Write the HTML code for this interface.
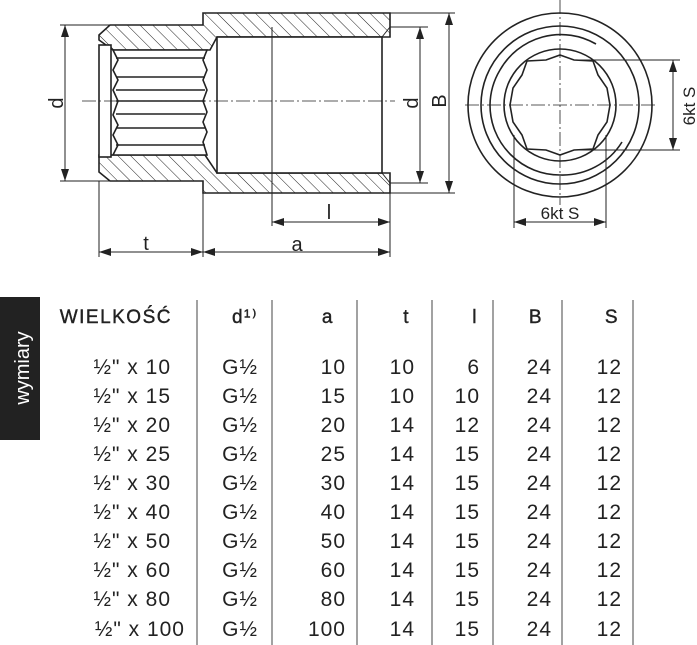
<!DOCTYPE html>
<html><head><style>
html,body{margin:0;padding:0;background:#fff}
svg{display:block}
text{font-family:"Liberation Sans","DejaVu Sans",sans-serif;fill:#222}
</style></head><body>
<svg width="697" height="645" viewBox="0 0 697 645" xmlns="http://www.w3.org/2000/svg">
<defs>
<pattern id="h" patternUnits="userSpaceOnUse" width="9" height="9" patternTransform="rotate(-45)">
<line x1="0" y1="0" x2="0" y2="9" stroke="#222" stroke-width="1"/>
</pattern>
<marker id="ar" markerWidth="12" markerHeight="8" refX="12" refY="4" orient="auto-start-reverse" markerUnits="userSpaceOnUse">
<path d="M0,0 L12,4 L0,8 z" fill="#222"/></marker>
</defs>
<g stroke="#222" fill="none">
<path d="M110,25 L203,25 L203,13 L390,13 L390,37 L217,37 L210,50 L113,50 L99,40 L99,35 Z" fill="url(#h)" stroke-width="1.6"/>
<path d="M99,155 L205,155 L217,173 L390,173 L390,193 L203,193 L203,181 L110,181 L99,172 Z" fill="url(#h)" stroke-width="1.6"/>
<rect x="217" y="37" width="165" height="136" fill="#fff" stroke-width="1.6"/>
<line x1="382" y1="37" x2="390" y2="27" stroke-width="1"/>
<line x1="382" y1="173" x2="390" y2="183" stroke-width="1"/>
<line x1="272" y1="27" x2="272" y2="226" stroke-width="1"/>
<rect x="99" y="45" width="12" height="112" fill="#fff" stroke-width="1.6"/>
<path d="M113,50 L207,50 L203,60 L207,70 L203,80 L207,90 L203,101 L207,112 L203,122 L207,132 L203,142 L207,155 L113,155 L118,145 L113,135 L118,125 L113,115 L118,101 L113,90 L118,80 L113,70 L118,60 Z" fill="#fff" stroke-width="1.6"/>
<g stroke-width="1.4"><line x1="116" y1="58" x2="205" y2="58"/><line x1="116" y1="77" x2="205" y2="77"/><line x1="116" y1="90" x2="205" y2="90"/><line x1="116" y1="101" x2="205" y2="101"/><line x1="116" y1="114" x2="205" y2="114"/><line x1="116" y1="128" x2="205" y2="128"/><line x1="116" y1="145" x2="205" y2="145"/></g>
<line x1="82" y1="101" x2="395" y2="101" stroke-width="0.8" stroke-dasharray="14,3,2,3"/>
<g stroke-width="1">
<line x1="60" y1="25" x2="110" y2="25"/><line x1="60" y1="181" x2="110" y2="181"/>
<line x1="65" y1="25" x2="65" y2="181" marker-start="url(#ar)" marker-end="url(#ar)"/>
<line x1="390" y1="27" x2="428" y2="27"/><line x1="390" y1="183" x2="428" y2="183"/>
<line x1="420" y1="27" x2="420" y2="183" marker-start="url(#ar)" marker-end="url(#ar)"/>
<line x1="390" y1="13" x2="455" y2="13"/><line x1="390" y1="193" x2="455" y2="193"/>
<line x1="449" y1="13" x2="449" y2="193" marker-start="url(#ar)" marker-end="url(#ar)"/>
<line x1="99" y1="181" x2="99" y2="257"/><line x1="203" y1="193" x2="203" y2="257"/><line x1="390" y1="193" x2="390" y2="257"/>
<line x1="99" y1="252" x2="203" y2="252" marker-start="url(#ar)" marker-end="url(#ar)"/>
<line x1="203" y1="252" x2="390" y2="252" marker-start="url(#ar)" marker-end="url(#ar)"/>
<line x1="272" y1="222" x2="390" y2="222" marker-start="url(#ar)" marker-end="url(#ar)"/>
</g>
<g stroke-width="1.6">
<circle cx="560" cy="105" r="92"/><circle cx="560" cy="105" r="79"/>
<path d="M596,44 A70,70 0 0 0 500,70 A70,70 0 0 0 490,105 A70,70 0 0 0 560,175 A70,70 0 0 0 622,142"/>
<circle cx="560" cy="105" r="56"/>
<path d="M560,55 L574,60 L593,61 L598,75 L607,88 L610,105 L607,122 L598,135 L593,149 L574,150 L560,155 L546,150 L527,149 L522,135 L513,122 L510,105 L513,88 L522,75 L527,61 L546,60 Z" fill="#fff"/>
</g>
<g stroke-width="0.8" stroke-dasharray="14,3,2,3">
<line x1="560" y1="0" x2="560" y2="205"/><line x1="465" y1="105" x2="655" y2="105"/>
</g>
<g stroke-width="1">
<line x1="575" y1="60" x2="680" y2="60"/><line x1="575" y1="150" x2="680" y2="150"/>
<line x1="673" y1="60" x2="673" y2="150" marker-start="url(#ar)" marker-end="url(#ar)"/>
<line x1="514" y1="135" x2="514" y2="228"/><line x1="606" y1="135" x2="606" y2="228"/>
<line x1="514" y1="222" x2="606" y2="222" marker-start="url(#ar)" marker-end="url(#ar)"/>
</g>
</g>
<g font-size="20">
<text x="63" y="103" transform="rotate(-90 63 103)" text-anchor="middle">d</text>
<text x="418" y="103" transform="rotate(-90 418 103)" text-anchor="middle">d</text>
<text x="446" y="101" transform="rotate(-90 446 101)" text-anchor="middle">B</text>
<text x="329" y="219" text-anchor="middle">l</text>
<text x="146" y="250" text-anchor="middle">t</text>
<text x="297" y="251" text-anchor="middle">a</text>
</g>
<g font-size="17">
<text x="560" y="219" text-anchor="middle">6kt S</text>
<text x="695" y="106" transform="rotate(-90 695 106)" text-anchor="middle">6kt S</text>
</g>
<rect x="0" y="297" width="40" height="143" fill="#222"/>
<text x="29" y="368" transform="rotate(-90 29 368)" text-anchor="middle" font-size="20" style="fill:#fff">wymiary</text>
<g stroke="#444" stroke-width="1">
<line x1="197" y1="300" x2="197" y2="645"/><line x1="272" y1="300" x2="272" y2="645"/>
<line x1="357" y1="300" x2="357" y2="645"/><line x1="432" y1="300" x2="432" y2="645"/>
<line x1="493" y1="300" x2="493" y2="645"/><line x1="562" y1="300" x2="562" y2="645"/>
<line x1="633" y1="300" x2="633" y2="645"/>
</g>
<g font-size="19" text-anchor="end" style="stroke:#222;stroke-width:0.4" letter-spacing="1.5">
<text x="172" y="323">WIELKOŚĆ</text>
<text x="258" y="323">d¹⁾</text><text x="334" y="323">a</text><text x="410" y="323">t</text>
<text x="478" y="323">l</text><text x="543" y="323">B</text><text x="619" y="323">S</text>
</g>
<g font-size="21" text-anchor="end" letter-spacing="1">
<g>
<text x="171" y="374">½" x 10</text><text x="171" y="403">½" x 15</text><text x="171" y="432">½" x 20</text><text x="171" y="461">½" x 25</text><text x="171" y="490">½" x 30</text><text x="171" y="519">½" x 40</text><text x="171" y="548">½" x 50</text><text x="171" y="577">½" x 60</text><text x="171" y="606">½" x 80</text><text x="185" y="636">½" x 100</text>
</g>
<g>
<text x="258" y="374">G½</text><text x="258" y="403">G½</text><text x="258" y="432">G½</text><text x="258" y="461">G½</text><text x="258" y="490">G½</text><text x="258" y="519">G½</text><text x="258" y="548">G½</text><text x="258" y="577">G½</text><text x="258" y="606">G½</text><text x="258" y="636">G½</text>
</g>
<g>
<text x="346" y="374">10</text><text x="346" y="403">15</text><text x="346" y="432">20</text><text x="346" y="461">25</text><text x="346" y="490">30</text><text x="346" y="519">40</text><text x="346" y="548">50</text><text x="346" y="577">60</text><text x="346" y="606">80</text><text x="346" y="636">100</text>
</g>
<g>
<text x="415" y="374">10</text><text x="415" y="403">10</text><text x="415" y="432">14</text><text x="415" y="461">14</text><text x="415" y="490">14</text><text x="415" y="519">14</text><text x="415" y="548">14</text><text x="415" y="577">14</text><text x="415" y="606">14</text><text x="415" y="636">14</text>
</g>
<g>
<text x="480" y="374">6</text><text x="480" y="403">10</text><text x="480" y="432">12</text><text x="480" y="461">15</text><text x="480" y="490">15</text><text x="480" y="519">15</text><text x="480" y="548">15</text><text x="480" y="577">15</text><text x="480" y="606">15</text><text x="480" y="636">15</text>
</g>
<g>
<text x="552" y="374">24</text><text x="552" y="403">24</text><text x="552" y="432">24</text><text x="552" y="461">24</text><text x="552" y="490">24</text><text x="552" y="519">24</text><text x="552" y="548">24</text><text x="552" y="577">24</text><text x="552" y="606">24</text><text x="552" y="636">24</text>
</g>
<g>
<text x="622" y="374">12</text><text x="622" y="403">12</text><text x="622" y="432">12</text><text x="622" y="461">12</text><text x="622" y="490">12</text><text x="622" y="519">12</text><text x="622" y="548">12</text><text x="622" y="577">12</text><text x="622" y="606">12</text><text x="622" y="636">12</text>
</g>
</g>
</svg>
</body></html>
